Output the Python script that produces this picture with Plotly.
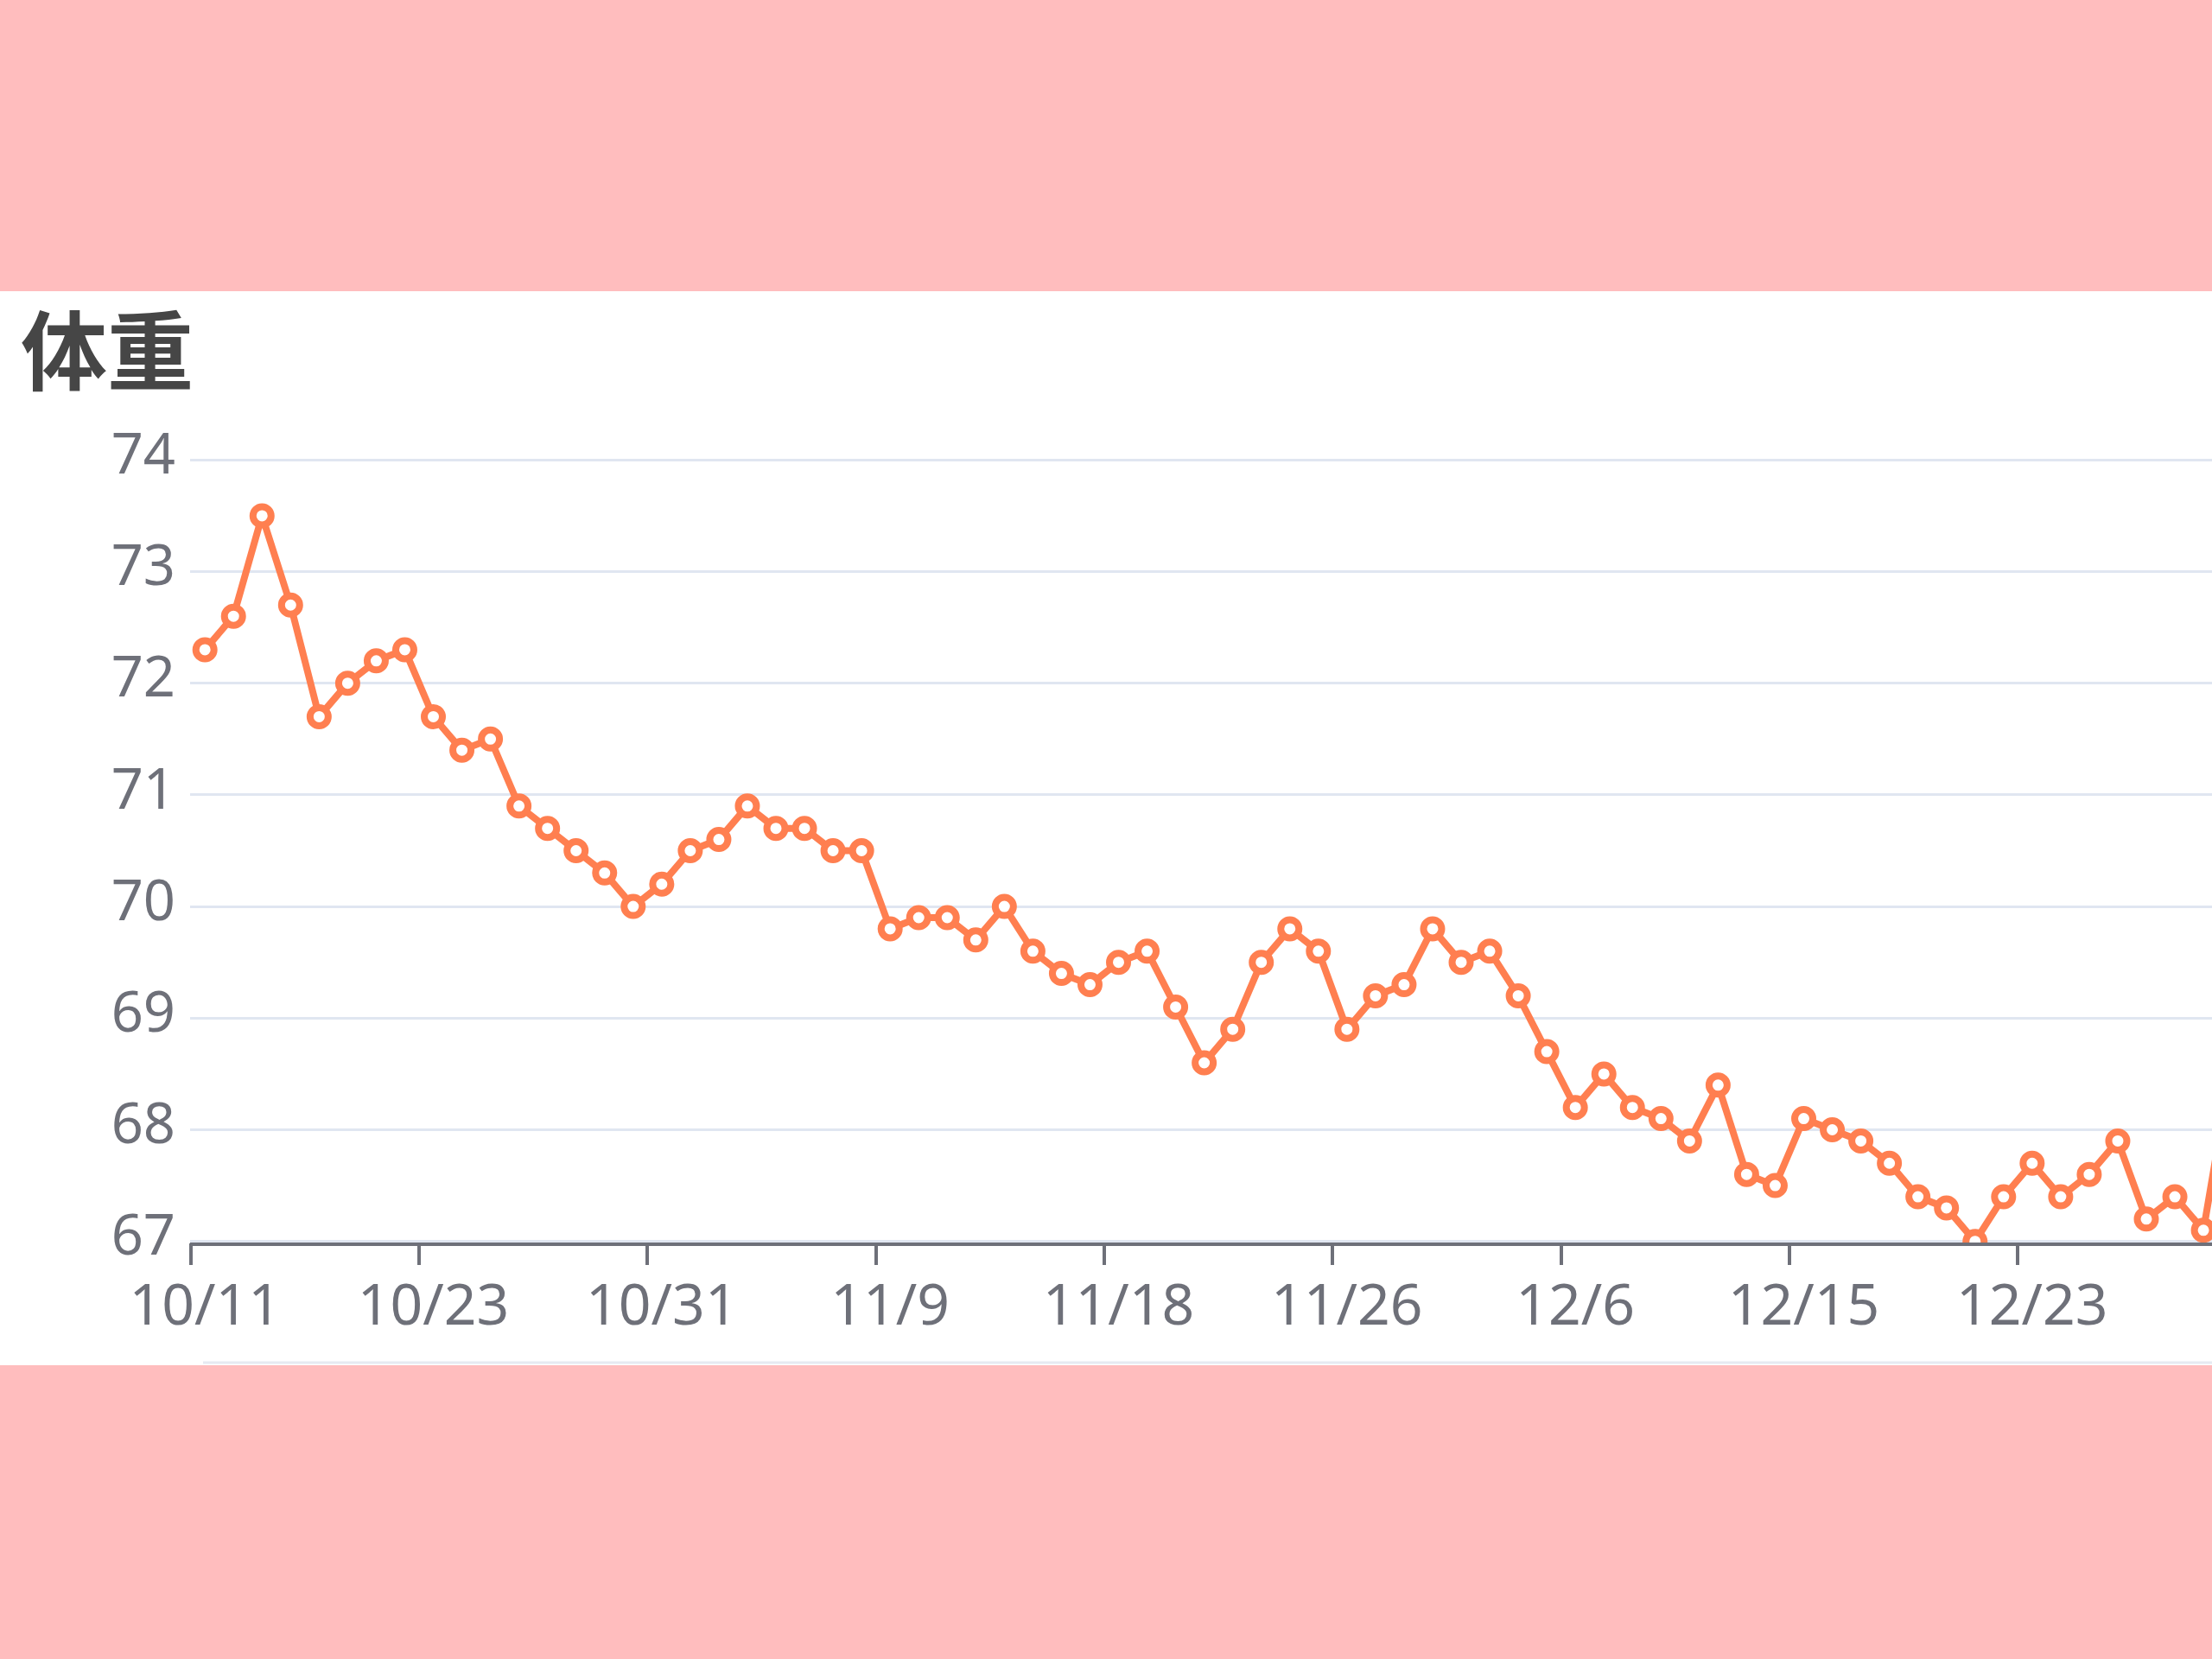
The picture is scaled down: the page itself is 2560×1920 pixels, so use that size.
import plotly.graph_objects as go

# ---- data ----
dates = ["10/11", "10/12", "10/13", "10/15", "10/16", "10/18", "10/19", "10/21",
         "10/23", "10/24", "10/25", "10/26", "10/27", "10/28", "10/29", "10/30",
         "10/31", "11/1", "11/2", "11/3", "11/4", "11/5", "11/6", "11/8",
         "11/9", "11/10", "11/11", "11/12", "11/13", "11/14", "11/15", "11/17",
         "11/18", "11/19", "11/20", "11/21", "11/22", "11/23", "11/24", "11/25",
         "11/26", "11/27", "11/28", "11/30", "12/1", "12/2", "12/3", "12/5",
         "12/6", "12/7", "12/8", "12/9", "12/10", "12/11", "12/12", "12/14",
         "12/15", "12/16", "12/17", "12/18", "12/19", "12/20", "12/21", "12/22",
         "12/23", "12/24", "12/25", "12/26", "12/27", "12/28", "12/29", "12/30"]

weights = [72.3, 72.6, 73.5, 72.7, 71.7, 72.0, 72.2, 72.3, 71.7, 71.4,
           71.5, 70.9, 70.7, 70.5, 70.3, 70.0, 70.2, 70.5, 70.6, 70.9,
           70.7, 70.7, 70.5, 70.5, 69.8, 69.9, 69.9, 69.7, 70.0, 69.6,
           69.4, 69.3, 69.5, 69.6, 69.1, 68.6, 68.9, 69.5, 69.8, 69.6,
           68.9, 69.2, 69.3, 69.8, 69.5, 69.6, 69.2, 68.7, 68.2, 68.5,
           68.2, 68.1, 67.9, 68.4, 67.6, 67.5, 68.1, 68.0, 67.9, 67.7,
           67.4, 67.3, 67.0, 67.4, 67.7, 67.4, 67.6, 67.9, 67.2, 67.4,
           67.1, 68.6]

x_tick_labels = ["10/11", "10/23", "10/31", "11/9", "11/18", "11/26", "12/6", "12/15", "12/23"]
y_ticks = [67, 68, 69, 70, 71, 72, 73, 74]
title_text = "体重"

# ---- style ----
W, H = 2560, 1920
L, R, T, B = 220, 0, 531, 482
PW, PH = W - L - R, H - T - B
PINK = "#FFBDBE"
LINE = "#FF7F50"
AXIS = "#6E7079"
GRID = "#E0E6F1"
X_RANGE = [-0.52, 70.3]


def fx(x):
    return (x - L) / PW


def fy(y):
    return (H - B - y) / PH


# category boundaries (left edge of each labelled category) for tick marks
boundary_vals = [dates.index(lbl) - 0.5 for lbl in x_tick_labels]

fig = go.Figure()
fig.add_trace(go.Scatter(
    x=dates, y=weights, mode="lines+markers",
    line=dict(color=LINE, width=8),
    marker=dict(symbol="circle", size=21, color="white",
                line=dict(color=LINE, width=8)),
    cliponaxis=True, showlegend=False, hoverinfo="x+y",
))
# empty helper trace so the tick-mark axis is instantiated
fig.add_trace(go.Scatter(x=[None], y=[None], xaxis="x2", yaxis="y",
                         mode="markers", showlegend=False, hoverinfo="skip"))

shapes = [
    dict(type="rect", xref="paper", yref="paper",
         x0=fx(0), x1=fx(W), y0=fy(1580), y1=fy(337),
         fillcolor="white", line=dict(width=0), layer="below"),
    dict(type="line", xref="paper", yref="paper",
         x0=fx(235), x1=fx(W), y0=fy(1577), y1=fy(1577),
         line=dict(color="#E6EAF2", width=3), layer="below"),
]

fig.update_layout(
    width=W, height=H,
    margin=dict(l=L, r=R, t=T, b=B, pad=0),
    paper_bgcolor=PINK, plot_bgcolor="white",
    shapes=shapes,
    showlegend=False,
    annotations=[dict(
        text="<b>" + title_text + "</b>", xref="paper", yref="paper",
        x=fx(22), y=fy(400), xanchor="left", yanchor="middle",
        showarrow=False,
        font=dict(family="Noto Sans CJK SC", size=100, color="#464646"),
    )],
    xaxis=dict(
        type="category", categoryorder="array", categoryarray=dates,
        range=X_RANGE,
        tickmode="array", tickvals=x_tick_labels, ticktext=x_tick_labels,
        tickangle=0,
        ticks="", showline=True, linecolor=AXIS, linewidth=4,
        showgrid=False, zeroline=False,
        tickfont=dict(family="Noto Sans", size=66, color=AXIS),
        ticklabelstandoff=12,
        fixedrange=True,
    ),
    xaxis2=dict(
        type="linear", overlaying="x", anchor="y", side="bottom",
        range=X_RANGE,
        tickmode="array", tickvals=boundary_vals,
        ticks="outside", ticklen=25, tickwidth=4, tickcolor=AXIS,
        showticklabels=False, showline=False, showgrid=False, zeroline=False,
        fixedrange=True,
    ),
    yaxis=dict(
        range=[66.99, 74.01], tickmode="array", tickvals=y_ticks,
        ticktext=[str(v) for v in y_ticks],
        showgrid=True, gridcolor=GRID, gridwidth=3,
        zeroline=False, showline=False, ticks="",
        tickfont=dict(family="Noto Sans", size=65, color=AXIS),
        ticklabelstandoff=16, ticklabelshift=-7,
        fixedrange=True,
    ),
)

fig.write_html("out.html", config={"displayModeBar": False},
               post_script="document.body.style.margin='0';document.body.style.overflow='hidden';")
